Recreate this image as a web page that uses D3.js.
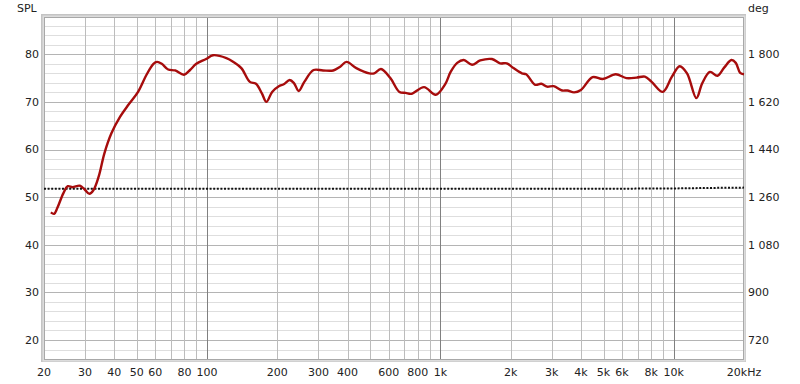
<!DOCTYPE html>
<html>
<head>
<meta charset="utf-8">
<script src="https://cdn.jsdelivr.net/npm/d3@7"></script>
<style>
  body { margin: 0; background: #fff; }
  svg text { font-family: "DejaVu Sans", Verdana, sans-serif; font-size: 11px; fill: #222; }
</style>
</head>
<body>
<svg id="chart" width="800" height="384"></svg>
<script>
// frequency response (Hz, dB SPL)
const freqs = [21.4, 22.1, 22.8, 24.2, 25.3, 26.5, 28.5, 29.9, 31.3, 32.6, 34.3, 36.3, 38.9, 42.4, 46, 50.6,
  55, 58.9, 61, 63.9, 68.1, 73, 79.6, 84.5, 89.9, 99, 106, 121, 129.6, 140.2, 152.5, 162, 171.7, 179.6, 190,
  203, 213, 226, 236, 247, 261, 286, 314, 347, 372, 396, 436, 496, 520, 556, 610, 667, 710, 751, 851, 955,
  1050, 1106, 1180, 1259, 1366, 1481, 1662, 1802, 1924, 2056, 2234, 2330, 2548, 2705, 2863, 3060, 3325, 3500,
  3740, 4000, 4490, 4960, 5640, 6270, 6930, 7520, 8040, 8980, 9820, 10600, 11400, 12500, 13240, 14290, 15380,
  16440, 17670, 18440, 19260, 20000];
const spl = [46.8, 46.5, 47.7, 50.8, 52.3, 52.1, 52.4, 51.6, 50.7, 51.5, 54.3, 59.2, 63.4, 66.9, 69.4, 72.1,
  75.7, 78.0, 78.4, 78.0, 76.8, 76.6, 75.7, 76.7, 78.0, 79.0, 79.8, 79.2, 78.4, 77.1, 74.2, 73.8, 71.8, 70.0, 72.1,
  73.3, 73.7, 74.6, 73.9, 72.3, 74.2, 76.7, 76.6, 76.6, 77.4, 78.4, 77.1, 76.0, 76.0, 76.9, 75.0, 72.1, 71.9, 71.7,
  73.1, 71.5, 73.8, 76.3, 78.2, 78.8, 77.8, 78.7, 79.0, 78.1, 78.1, 77.1, 76.0, 75.8, 73.6, 73.8, 73.2, 73.3, 72.4,
  72.4, 72.0, 72.5, 75.2, 74.8, 75.8, 75.0, 75.1, 75.3, 74.2, 72.1, 75.3, 77.5, 76.0, 70.8, 73.9, 76.3, 75.5, 77.2,
  78.8, 78.2, 76.1, 75.8];

// phase trace (deg)
const phaseFreqs = [20, 100, 1000, 5000, 10000, 15000, 20000];
const phase = [1292, 1292, 1292, 1292, 1293, 1295, 1296];

const xTicks = [20, 30, 40, 50, 60, 80, 100, 200, 300, 400, 600, 800, 1000, 2000, 3000, 4000, 5000, 6000, 8000, 10000, 20000];
const xTickLabels = ['20', '30', '40', '50', '60', '80', '100', '200', '300', '400', '600', '800', '1k', '2k', '3k', '4k', '5k', '6k', '8k', '10k', '20kHz'];
const yTicks = [20, 30, 40, 50, 60, 70, 80];
const degTicks = [720, 900, 1080, 1260, 1440, 1620, 1800];

const m = { left: 44, top: 17, right: 744, bottom: 360 };
const svg = d3.select('#chart');

const x = d3.scaleLog().domain([20, 20000]).range([m.left, m.right]);
const y = d3.scaleLinear().domain([15.8, 87.83]).range([m.bottom, m.top]);
const yDeg = d3.scaleLinear().domain([1800 + 18 * (15.8 - 80), 1800 + 18 * (87.83 - 80)]).range([m.bottom, m.top]);

// frame shading
svg.append('rect').attr('x', m.left - 3).attr('y', m.top - 3)
  .attr('width', m.right - m.left + 5).attr('height', m.bottom - m.top + 5).attr('fill', '#c4c4c4');
svg.append('rect').attr('x', m.left - 1.5).attr('y', m.top - 1.5)
  .attr('width', m.right - m.left + 3).attr('height', m.bottom - m.top + 3).attr('fill', '#dcdcdc');
svg.append('rect').attr('x', m.left).attr('y', m.top)
  .attr('width', m.right - m.left).attr('height', m.bottom - m.top).attr('fill', '#fff');

const grid = svg.append('g').attr('shape-rendering', 'crispEdges');

// horizontal grid, 2 dB minor
d3.range(16, 88, 2).forEach(v => {
  grid.append('line')
    .attr('x1', m.left).attr('x2', m.right)
    .attr('y1', Math.round(y(v)) + 0.5).attr('y2', Math.round(y(v)) + 0.5)
    .attr('stroke', v % 10 === 0 ? '#b4b4b4' : '#dedede');
});

// vertical grid
const vLines = [];
[10, 100, 1000, 10000].forEach(d => d3.range(1, 10).forEach(k => vLines.push(d * k)));
vLines.filter(f => f > 20 && f < 20000).forEach(f => {
  const decade = Math.log10(f) % 1 === 0;
  grid.append('line')
    .attr('x1', Math.round(x(f)) + 0.5).attr('x2', Math.round(x(f)) + 0.5)
    .attr('y1', m.top).attr('y2', m.bottom)
    .attr('stroke', decade ? '#808080' : '#bcbcbc');
});

// plot border
svg.append('rect').attr('x', m.left + 0.5).attr('y', m.top + 0.5)
  .attr('width', m.right - m.left - 1).attr('height', m.bottom - m.top - 1)
  .attr('fill', 'none').attr('stroke', '#a8a8a8').attr('shape-rendering', 'crispEdges');

// phase (dotted)
svg.append('path')
  .datum(phaseFreqs.map((f, i) => [f, phase[i]]))
  .attr('fill', 'none').attr('stroke', '#111').attr('stroke-width', 2)
  .attr('stroke-dasharray', '2,1.6')
  .attr('d', d3.line().x(d => x(d[0])).y(d => yDeg(d[1])).curve(d3.curveMonotoneX));

// SPL curve
svg.append('path')
  .datum(freqs.map((f, i) => [f, spl[i]]))
  .attr('fill', 'none').attr('stroke', '#a60c0c').attr('stroke-width', 2.4)
  .attr('stroke-linejoin', 'round')
  .attr('d', d3.line().x(d => x(d[0])).y(d => y(d[1])).curve(d3.curveCatmullRom.alpha(0.5)));

// axes labels
const fmtDeg = v => d3.format(',')(v).replace(',', ' ');
svg.append('g').selectAll('text').data(yTicks).join('text')
  .attr('x', 39).attr('y', d => y(d)).attr('dy', '0.36em').attr('text-anchor', 'end').text(d => d);
svg.append('g').selectAll('text').data(degTicks).join('text')
  .attr('x', 748).attr('y', d => yDeg(d)).attr('dy', '0.36em').text(fmtDeg);
svg.append('g').selectAll('text').data(xTicks).join('text')
  .attr('x', d => x(d)).attr('y', 376).attr('text-anchor', 'middle')
  .text((d, i) => xTickLabels[i]);

svg.append('text').attr('x', 17).attr('y', 12).text('SPL');
svg.append('text').attr('x', 748).attr('y', 12).text('deg');
</script>
</body>
</html>
